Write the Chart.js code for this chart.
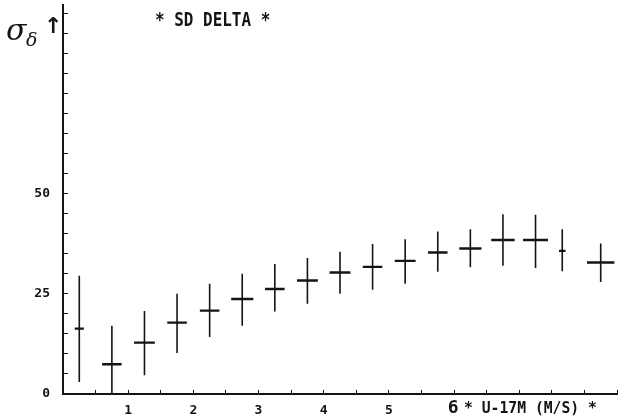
<!DOCTYPE html>
<html>
<head>
<meta charset="utf-8">
<script src="https://cdn.jsdelivr.net/npm/chart.js@4.4.1/dist/chart.umd.min.js"></script>
<style>
  body { margin: 0; background: #fff; }
  canvas { display: block; }
</style>
</head>
<body>
<canvas id="sd-delta" width="629" height="417"></canvas>
<script>
// wind speed bins (m/s) and sd of delta
var windSpeed = [0.25, 0.75, 1.25, 1.75, 2.25, 2.75, 3.25, 3.75, 4.25, 4.75, 5.25, 5.75, 6.25, 6.75, 7.25, 7.66, 8.25];
var sdMean    = [16.3, 7.4, 12.8, 17.8, 20.8, 23.7, 26.2, 28.3, 30.3, 31.7, 33.2, 35.3, 36.3, 38.4, 38.4, 35.7, 32.8];
var sdUpper   = [29.5, 17.0, 20.7, 25.0, 27.5, 30.0, 32.4, 33.9, 35.5, 37.4, 38.6, 40.5, 41.1, 44.8, 44.7, 41.1, 37.5];
var sdLower   = [3.0, 0.0, 4.7, 10.2, 14.2, 17.0, 20.6, 22.5, 25.0, 26.0, 27.5, 30.5, 31.6, 32.0, 31.4, 30.6, 27.9];
var binHalf   = [0.07, 0.15, 0.16, 0.15, 0.15, 0.17, 0.15, 0.16, 0.16, 0.15, 0.16, 0.15, 0.17, 0.18, 0.19, 0.05, 0.21];
var yLabels   = [0, 25, 50];
var xLabels   = [1, 2, 3, 4, 5];
var xLastLabel = 6; // drawn bigger, next to the axis title

var ink = '#141414';
var plotFont = '"DejaVu Sans Mono", monospace';

// crosses as broken line segments
var vertical = [], horizontal = [];
for (var i = 0; i < windSpeed.length; i++) {
    vertical.push({x: windSpeed[i], y: sdLower[i]}, {x: windSpeed[i], y: sdUpper[i]}, {x: windSpeed[i], y: null});
    horizontal.push({x: windSpeed[i] - binHalf[i], y: sdMean[i]}, {x: windSpeed[i] + binHalf[i], y: sdMean[i]}, {x: windSpeed[i], y: null});
}

function condensedText(ctx, text, x, y, size, squeeze) {
    ctx.save();
    ctx.font = 'bold ' + size + 'px ' + plotFont;
    ctx.fillStyle = ink;
    ctx.textBaseline = 'alphabetic';
    ctx.translate(x, y);
    ctx.scale(squeeze, 1);
    ctx.fillText(text, 0, 0);
    ctx.restore();
}

var labelsPlugin = {
    id: 'plotLabels',
    afterDraw: function (chart) {
        var ctx = chart.ctx;
        condensedText(ctx, '* SD DELTA *', 155, 26, 19, 0.84);
        condensedText(ctx, '* U-17M (M/S) *', 464, 413, 16, 0.92);

        ctx.save();
        ctx.fillStyle = ink;
        ctx.font = 'bold 18px ' + plotFont;
        ctx.textAlign = 'center';
        ctx.fillText(String(xLastLabel), chart.scales.x.getPixelForValue(xLastLabel) - 1, 413);
        ctx.textAlign = 'left';
        ctx.font = 'italic 30px "DejaVu Serif", serif';
        ctx.fillText('σ', 6, 40);
        ctx.font = 'italic 19px "DejaVu Serif", serif';
        ctx.fillText('δ', 26, 46);
        ctx.font = 'bold 22px "DejaVu Sans", sans-serif';
        ctx.fillText('↑', 44, 33);
        ctx.restore();
    }
};

new Chart(document.getElementById('sd-delta'), {
    type: 'scatter',
    data: {
        datasets: [{
            data: vertical,
            showLine: true,
            spanGaps: false,
            borderColor: ink,
            borderWidth: 1.6,
            pointRadius: 0
        }, {
            data: horizontal,
            showLine: true,
            spanGaps: false,
            borderColor: ink,
            borderWidth: 2.4,
            pointRadius: 0
        }]
    },
    options: {
        responsive: false,
        animation: false,
        devicePixelRatio: 1,
        layout: { padding: { top: 5, right: 12, left: 0, bottom: 0 } },
        plugins: {
            legend: { display: false },
            tooltip: { enabled: false }
        },
        scales: {
            x: {
                type: 'linear',
                min: 0,
                max: 8.5,
                afterFit: function (axis) {
                    axis.height = 23;
                    axis.paddingLeft = 0;
                    axis.paddingRight = 0;
                },
                afterBuildTicks: function (axis) {
                    var t = [];
                    for (var v = 0; v <= 8.5; v += 0.5) t.push({value: v});
                    axis.ticks = t;
                },
                border: { color: ink, width: 2 },
                grid: { drawOnChartArea: false, tickLength: -4, color: ink, lineWidth: 1 },
                ticks: {
                    padding: 13,
                    maxRotation: 0,
                    autoSkip: false,
                    color: ink,
                    font: { family: plotFont, size: 13, weight: 'bold' },
                    callback: function (v) { return xLabels.indexOf(v) >= 0 ? String(v) : ''; }
                }
            },
            y: {
                min: 0,
                max: 97,
                afterFit: function (axis) {
                    axis.width = 63;
                    axis.paddingTop = 0;
                    axis.paddingBottom = 0;
                },
                afterBuildTicks: function (axis) {
                    var t = [];
                    for (var v = 0; v <= 95; v += 5) t.push({value: v});
                    axis.ticks = t;
                },
                border: { color: ink, width: 2 },
                grid: { drawOnChartArea: false, tickLength: -5, color: ink, lineWidth: 1 },
                ticks: {
                    padding: 18,
                    autoSkip: false,
                    color: ink,
                    font: { family: plotFont, size: 13, weight: 'bold' },
                    callback: function (v) { return yLabels.indexOf(v) >= 0 ? String(v) : ''; }
                }
            }
        }
    },
    plugins: [labelsPlugin]
});
</script>
</body>
</html>
